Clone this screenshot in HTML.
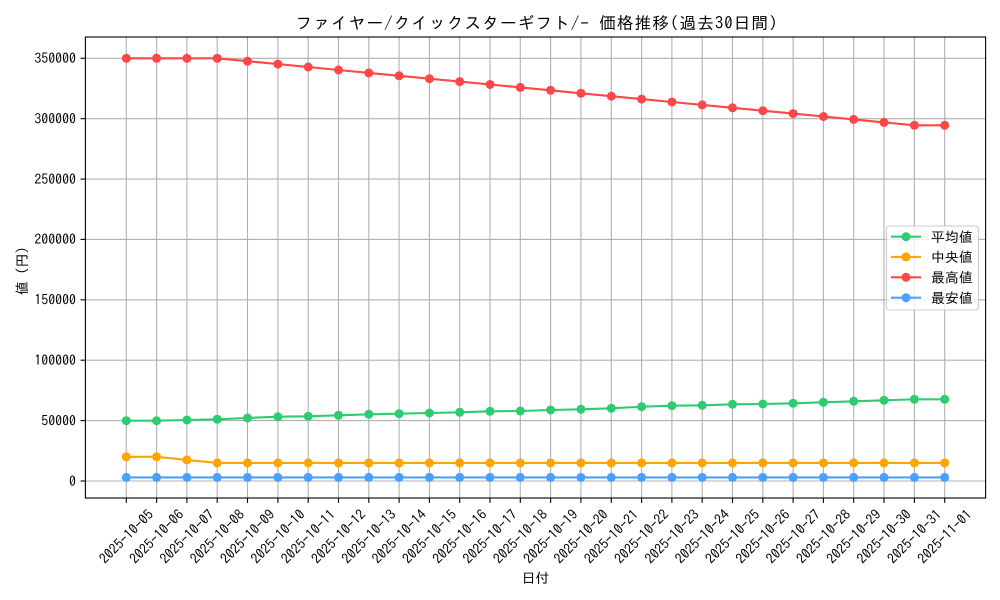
<!DOCTYPE html>
<html><head><meta charset="utf-8"><style>
html,body{margin:0;padding:0;background:#fff;}
svg{display:block;font-family:"IPAGothic","Liberation Sans","Noto Sans CJK JP",sans-serif;}
</style></head><body>
<svg width="1000" height="600" viewBox="0 0 1000 600" xmlns="http://www.w3.org/2000/svg">
<rect width="1000" height="600" fill="#fff"/>
<!-- grid -->
<g stroke="#b0b0b0" stroke-width="1.1">
<line x1="85.4" y1="481" x2="985.6" y2="481"/>
<line x1="85.4" y1="420.6" x2="985.6" y2="420.6"/>
<line x1="85.4" y1="360.2" x2="985.6" y2="360.2"/>
<line x1="85.4" y1="299.8" x2="985.6" y2="299.8"/>
<line x1="85.4" y1="239.4" x2="985.6" y2="239.4"/>
<line x1="85.4" y1="179.1" x2="985.6" y2="179.1"/>
<line x1="85.4" y1="118.7" x2="985.6" y2="118.7"/>
<line x1="85.4" y1="58.3" x2="985.6" y2="58.3"/>
<line x1="126.3" y1="37" x2="126.3" y2="498"/>
<line x1="156.6" y1="37" x2="156.6" y2="498"/>
<line x1="186.9" y1="37" x2="186.9" y2="498"/>
<line x1="217.2" y1="37" x2="217.2" y2="498"/>
<line x1="247.5" y1="37" x2="247.5" y2="498"/>
<line x1="277.9" y1="37" x2="277.9" y2="498"/>
<line x1="308.2" y1="37" x2="308.2" y2="498"/>
<line x1="338.5" y1="37" x2="338.5" y2="498"/>
<line x1="368.8" y1="37" x2="368.8" y2="498"/>
<line x1="399.1" y1="37" x2="399.1" y2="498"/>
<line x1="429.4" y1="37" x2="429.4" y2="498"/>
<line x1="459.7" y1="37" x2="459.7" y2="498"/>
<line x1="490.0" y1="37" x2="490.0" y2="498"/>
<line x1="520.3" y1="37" x2="520.3" y2="498"/>
<line x1="550.6" y1="37" x2="550.6" y2="498"/>
<line x1="580.9" y1="37" x2="580.9" y2="498"/>
<line x1="611.3" y1="37" x2="611.3" y2="498"/>
<line x1="641.6" y1="37" x2="641.6" y2="498"/>
<line x1="671.9" y1="37" x2="671.9" y2="498"/>
<line x1="702.2" y1="37" x2="702.2" y2="498"/>
<line x1="732.5" y1="37" x2="732.5" y2="498"/>
<line x1="762.8" y1="37" x2="762.8" y2="498"/>
<line x1="793.1" y1="37" x2="793.1" y2="498"/>
<line x1="823.4" y1="37" x2="823.4" y2="498"/>
<line x1="853.7" y1="37" x2="853.7" y2="498"/>
<line x1="884.0" y1="37" x2="884.0" y2="498"/>
<line x1="914.4" y1="37" x2="914.4" y2="498"/>
<line x1="944.7" y1="37" x2="944.7" y2="498"/>
</g>
<!-- series -->
<g fill="none" stroke-width="2.1" stroke-linejoin="round">
<polyline stroke="#2ecc71" points="126.3,420.7 156.6,420.7 186.9,420.0 217.2,419.3 247.5,418.0 277.9,416.7 308.2,416.3 338.5,415.3 368.8,414.3 399.1,413.7 429.4,413.0 459.7,412.3 490.0,411.3 520.3,411.0 550.6,410.0 580.9,409.3 611.3,408.3 641.6,406.7 671.9,405.7 702.2,405.3 732.5,404.3 762.8,404.0 793.1,403.3 823.4,402.3 853.7,401.3 884.0,400.3 914.4,399.3 944.7,399.3"/>
<polyline stroke="#ffa500" points="126.3,456.8 156.6,456.8 186.9,459.9 217.2,462.9 247.5,462.9 277.9,462.9 308.2,462.9 338.5,462.9 368.8,462.9 399.1,462.9 429.4,462.9 459.7,462.9 490.0,462.9 520.3,462.9 550.6,462.9 580.9,462.9 611.3,462.9 641.6,462.9 671.9,462.9 702.2,462.9 732.5,462.9 762.8,462.9 793.1,462.9 823.4,462.9 853.7,462.9 884.0,462.9 914.4,462.9 944.7,462.9"/>
<polyline stroke="#ff4747" points="126.3,58.3 156.6,58.3 186.9,58.3 217.2,58.3 247.5,61.2 277.9,64.1 308.2,67.0 338.5,70.0 368.8,72.9 399.1,75.8 429.4,78.7 459.7,81.6 490.0,84.5 520.3,87.4 550.6,90.3 580.9,93.3 611.3,96.2 641.6,99.1 671.9,102.0 702.2,104.9 732.5,107.8 762.8,110.7 793.1,113.6 823.4,116.5 853.7,119.4 884.0,122.4 914.4,125.3 944.7,125.3"/>
<polyline stroke="#4d9fff" points="126.3,477.4 944.7,477.4"/>
</g>
<g fill="#2ecc71">
<circle cx="126.3" cy="420.7" r="4.5"/><circle cx="156.6" cy="420.7" r="4.5"/><circle cx="186.9" cy="420.0" r="4.5"/><circle cx="217.2" cy="419.3" r="4.5"/><circle cx="247.5" cy="418.0" r="4.5"/><circle cx="277.9" cy="416.7" r="4.5"/><circle cx="308.2" cy="416.3" r="4.5"/><circle cx="338.5" cy="415.3" r="4.5"/><circle cx="368.8" cy="414.3" r="4.5"/><circle cx="399.1" cy="413.7" r="4.5"/><circle cx="429.4" cy="413.0" r="4.5"/><circle cx="459.7" cy="412.3" r="4.5"/><circle cx="490.0" cy="411.3" r="4.5"/><circle cx="520.3" cy="411.0" r="4.5"/><circle cx="550.6" cy="410.0" r="4.5"/><circle cx="580.9" cy="409.3" r="4.5"/><circle cx="611.3" cy="408.3" r="4.5"/><circle cx="641.6" cy="406.7" r="4.5"/><circle cx="671.9" cy="405.7" r="4.5"/><circle cx="702.2" cy="405.3" r="4.5"/><circle cx="732.5" cy="404.3" r="4.5"/><circle cx="762.8" cy="404.0" r="4.5"/><circle cx="793.1" cy="403.3" r="4.5"/><circle cx="823.4" cy="402.3" r="4.5"/><circle cx="853.7" cy="401.3" r="4.5"/><circle cx="884.0" cy="400.3" r="4.5"/><circle cx="914.4" cy="399.3" r="4.5"/><circle cx="944.7" cy="399.3" r="4.5"/>
</g>
<g fill="#ffa500">
<circle cx="126.3" cy="456.8" r="4.5"/><circle cx="156.6" cy="456.8" r="4.5"/><circle cx="186.9" cy="459.9" r="4.5"/><circle cx="217.2" cy="462.9" r="4.5"/><circle cx="247.5" cy="462.9" r="4.5"/><circle cx="277.9" cy="462.9" r="4.5"/><circle cx="308.2" cy="462.9" r="4.5"/><circle cx="338.5" cy="462.9" r="4.5"/><circle cx="368.8" cy="462.9" r="4.5"/><circle cx="399.1" cy="462.9" r="4.5"/><circle cx="429.4" cy="462.9" r="4.5"/><circle cx="459.7" cy="462.9" r="4.5"/><circle cx="490.0" cy="462.9" r="4.5"/><circle cx="520.3" cy="462.9" r="4.5"/><circle cx="550.6" cy="462.9" r="4.5"/><circle cx="580.9" cy="462.9" r="4.5"/><circle cx="611.3" cy="462.9" r="4.5"/><circle cx="641.6" cy="462.9" r="4.5"/><circle cx="671.9" cy="462.9" r="4.5"/><circle cx="702.2" cy="462.9" r="4.5"/><circle cx="732.5" cy="462.9" r="4.5"/><circle cx="762.8" cy="462.9" r="4.5"/><circle cx="793.1" cy="462.9" r="4.5"/><circle cx="823.4" cy="462.9" r="4.5"/><circle cx="853.7" cy="462.9" r="4.5"/><circle cx="884.0" cy="462.9" r="4.5"/><circle cx="914.4" cy="462.9" r="4.5"/><circle cx="944.7" cy="462.9" r="4.5"/>
</g>
<g fill="#ff4747">
<circle cx="126.3" cy="58.3" r="4.5"/><circle cx="156.6" cy="58.3" r="4.5"/><circle cx="186.9" cy="58.3" r="4.5"/><circle cx="217.2" cy="58.3" r="4.5"/><circle cx="247.5" cy="61.2" r="4.5"/><circle cx="277.9" cy="64.1" r="4.5"/><circle cx="308.2" cy="67.0" r="4.5"/><circle cx="338.5" cy="70.0" r="4.5"/><circle cx="368.8" cy="72.9" r="4.5"/><circle cx="399.1" cy="75.8" r="4.5"/><circle cx="429.4" cy="78.7" r="4.5"/><circle cx="459.7" cy="81.6" r="4.5"/><circle cx="490.0" cy="84.5" r="4.5"/><circle cx="520.3" cy="87.4" r="4.5"/><circle cx="550.6" cy="90.3" r="4.5"/><circle cx="580.9" cy="93.3" r="4.5"/><circle cx="611.3" cy="96.2" r="4.5"/><circle cx="641.6" cy="99.1" r="4.5"/><circle cx="671.9" cy="102.0" r="4.5"/><circle cx="702.2" cy="104.9" r="4.5"/><circle cx="732.5" cy="107.8" r="4.5"/><circle cx="762.8" cy="110.7" r="4.5"/><circle cx="793.1" cy="113.6" r="4.5"/><circle cx="823.4" cy="116.5" r="4.5"/><circle cx="853.7" cy="119.4" r="4.5"/><circle cx="884.0" cy="122.4" r="4.5"/><circle cx="914.4" cy="125.3" r="4.5"/><circle cx="944.7" cy="125.3" r="4.5"/>
</g>
<g fill="#4d9fff">
<circle cx="126.3" cy="477.4" r="4.5"/><circle cx="156.6" cy="477.4" r="4.5"/><circle cx="186.9" cy="477.4" r="4.5"/><circle cx="217.2" cy="477.4" r="4.5"/><circle cx="247.5" cy="477.4" r="4.5"/><circle cx="277.9" cy="477.4" r="4.5"/><circle cx="308.2" cy="477.4" r="4.5"/><circle cx="338.5" cy="477.4" r="4.5"/><circle cx="368.8" cy="477.4" r="4.5"/><circle cx="399.1" cy="477.4" r="4.5"/><circle cx="429.4" cy="477.4" r="4.5"/><circle cx="459.7" cy="477.4" r="4.5"/><circle cx="490.0" cy="477.4" r="4.5"/><circle cx="520.3" cy="477.4" r="4.5"/><circle cx="550.6" cy="477.4" r="4.5"/><circle cx="580.9" cy="477.4" r="4.5"/><circle cx="611.3" cy="477.4" r="4.5"/><circle cx="641.6" cy="477.4" r="4.5"/><circle cx="671.9" cy="477.4" r="4.5"/><circle cx="702.2" cy="477.4" r="4.5"/><circle cx="732.5" cy="477.4" r="4.5"/><circle cx="762.8" cy="477.4" r="4.5"/><circle cx="793.1" cy="477.4" r="4.5"/><circle cx="823.4" cy="477.4" r="4.5"/><circle cx="853.7" cy="477.4" r="4.5"/><circle cx="884.0" cy="477.4" r="4.5"/><circle cx="914.4" cy="477.4" r="4.5"/><circle cx="944.7" cy="477.4" r="4.5"/>
</g>
<!-- axes frame -->
<rect x="85.4" y="37" width="900.2" height="461" fill="none" stroke="#000" stroke-width="1.1"/>
<!-- y ticks -->
<g stroke="#000" stroke-width="1.1">
<line x1="80.5" y1="481" x2="85.4" y2="481"/><line x1="80.5" y1="420.6" x2="85.4" y2="420.6"/><line x1="80.5" y1="360.2" x2="85.4" y2="360.2"/><line x1="80.5" y1="299.8" x2="85.4" y2="299.8"/><line x1="80.5" y1="239.4" x2="85.4" y2="239.4"/><line x1="80.5" y1="179.1" x2="85.4" y2="179.1"/><line x1="80.5" y1="118.7" x2="85.4" y2="118.7"/><line x1="80.5" y1="58.3" x2="85.4" y2="58.3"/>
</g>
<g font-size="13.9" fill="#000" text-anchor="end">
<text x="76" y="485.8">0</text>
<text x="76" y="425.4">50000</text>
<text x="76" y="365">100000</text>
<text x="76" y="304.6">150000</text>
<text x="76" y="244.2">200000</text>
<text x="76" y="183.9">250000</text>
<text x="76" y="123.5">300000</text>
<text x="76" y="63.1">350000</text>
</g>
<!-- x ticks -->
<g stroke="#000" stroke-width="1.1">
<line x1="126.3" y1="498" x2="126.3" y2="502.9"/><line x1="156.6" y1="498" x2="156.6" y2="502.9"/><line x1="186.9" y1="498" x2="186.9" y2="502.9"/><line x1="217.2" y1="498" x2="217.2" y2="502.9"/><line x1="247.5" y1="498" x2="247.5" y2="502.9"/><line x1="277.9" y1="498" x2="277.9" y2="502.9"/><line x1="308.2" y1="498" x2="308.2" y2="502.9"/><line x1="338.5" y1="498" x2="338.5" y2="502.9"/><line x1="368.8" y1="498" x2="368.8" y2="502.9"/><line x1="399.1" y1="498" x2="399.1" y2="502.9"/><line x1="429.4" y1="498" x2="429.4" y2="502.9"/><line x1="459.7" y1="498" x2="459.7" y2="502.9"/><line x1="490.0" y1="498" x2="490.0" y2="502.9"/><line x1="520.3" y1="498" x2="520.3" y2="502.9"/><line x1="550.6" y1="498" x2="550.6" y2="502.9"/><line x1="580.9" y1="498" x2="580.9" y2="502.9"/><line x1="611.3" y1="498" x2="611.3" y2="502.9"/><line x1="641.6" y1="498" x2="641.6" y2="502.9"/><line x1="671.9" y1="498" x2="671.9" y2="502.9"/><line x1="702.2" y1="498" x2="702.2" y2="502.9"/><line x1="732.5" y1="498" x2="732.5" y2="502.9"/><line x1="762.8" y1="498" x2="762.8" y2="502.9"/><line x1="793.1" y1="498" x2="793.1" y2="502.9"/><line x1="823.4" y1="498" x2="823.4" y2="502.9"/><line x1="853.7" y1="498" x2="853.7" y2="502.9"/><line x1="884.0" y1="498" x2="884.0" y2="502.9"/><line x1="914.4" y1="498" x2="914.4" y2="502.9"/><line x1="944.7" y1="498" x2="944.7" y2="502.9"/>
</g>
<g font-size="13.9" fill="#000" text-anchor="middle">
<text transform="translate(126.3,536.5) rotate(-45)" y="4.9">2025-10-05</text>
<text transform="translate(156.6,536.5) rotate(-45)" y="4.9">2025-10-06</text>
<text transform="translate(186.9,536.5) rotate(-45)" y="4.9">2025-10-07</text>
<text transform="translate(217.2,536.5) rotate(-45)" y="4.9">2025-10-08</text>
<text transform="translate(247.5,536.5) rotate(-45)" y="4.9">2025-10-09</text>
<text transform="translate(277.9,536.5) rotate(-45)" y="4.9">2025-10-10</text>
<text transform="translate(308.2,536.5) rotate(-45)" y="4.9">2025-10-11</text>
<text transform="translate(338.5,536.5) rotate(-45)" y="4.9">2025-10-12</text>
<text transform="translate(368.8,536.5) rotate(-45)" y="4.9">2025-10-13</text>
<text transform="translate(399.1,536.5) rotate(-45)" y="4.9">2025-10-14</text>
<text transform="translate(429.4,536.5) rotate(-45)" y="4.9">2025-10-15</text>
<text transform="translate(459.7,536.5) rotate(-45)" y="4.9">2025-10-16</text>
<text transform="translate(490.0,536.5) rotate(-45)" y="4.9">2025-10-17</text>
<text transform="translate(520.3,536.5) rotate(-45)" y="4.9">2025-10-18</text>
<text transform="translate(550.6,536.5) rotate(-45)" y="4.9">2025-10-19</text>
<text transform="translate(580.9,536.5) rotate(-45)" y="4.9">2025-10-20</text>
<text transform="translate(611.3,536.5) rotate(-45)" y="4.9">2025-10-21</text>
<text transform="translate(641.6,536.5) rotate(-45)" y="4.9">2025-10-22</text>
<text transform="translate(671.9,536.5) rotate(-45)" y="4.9">2025-10-23</text>
<text transform="translate(702.2,536.5) rotate(-45)" y="4.9">2025-10-24</text>
<text transform="translate(732.5,536.5) rotate(-45)" y="4.9">2025-10-25</text>
<text transform="translate(762.8,536.5) rotate(-45)" y="4.9">2025-10-26</text>
<text transform="translate(793.1,536.5) rotate(-45)" y="4.9">2025-10-27</text>
<text transform="translate(823.4,536.5) rotate(-45)" y="4.9">2025-10-28</text>
<text transform="translate(853.7,536.5) rotate(-45)" y="4.9">2025-10-29</text>
<text transform="translate(884.0,536.5) rotate(-45)" y="4.9">2025-10-30</text>
<text transform="translate(914.4,536.5) rotate(-45)" y="4.9">2025-10-31</text>
<text transform="translate(944.7,536.5) rotate(-45)" y="4.9">2025-11-01</text>
</g>
<!-- axis labels -->
<text x="535.5" y="583" font-size="13.9" text-anchor="middle" fill="#000">日付</text>
<text transform="translate(27,267.5) rotate(-90)" font-size="13.9" text-anchor="middle" fill="#000">値（円）</text>
<!-- title -->
<text x="536.5" y="29" font-size="16.7" text-anchor="middle" fill="#000" textLength="482" lengthAdjust="spacing">ファイヤー/クイックスターギフト/- 価格推移(過去30日間)</text>
<!-- legend -->
<rect x="886.5" y="226" width="92" height="84" rx="3" fill="#fff" fill-opacity="0.8" stroke="#cccccc" stroke-width="1.1"/>
<g stroke-width="2.1">
<line x1="891" y1="236.7" x2="921" y2="236.7" stroke="#2ecc71"/>
<line x1="891" y1="256.9" x2="921" y2="256.9" stroke="#ffa500"/>
<line x1="891" y1="277.3" x2="921" y2="277.3" stroke="#ff4747"/>
<line x1="891" y1="297.7" x2="921" y2="297.7" stroke="#4d9fff"/>
</g>
<circle cx="906" cy="236.7" r="4.5" fill="#2ecc71"/>
<circle cx="906" cy="256.9" r="4.5" fill="#ffa500"/>
<circle cx="906" cy="277.3" r="4.5" fill="#ff4747"/>
<circle cx="906" cy="297.7" r="4.5" fill="#4d9fff"/>
<g font-size="13.9" fill="#000">
<text x="931" y="241.8">平均値</text>
<text x="931" y="262">中央値</text>
<text x="931" y="282.4">最高値</text>
<text x="931" y="302.8">最安値</text>
</g>
</svg>
</body></html>
